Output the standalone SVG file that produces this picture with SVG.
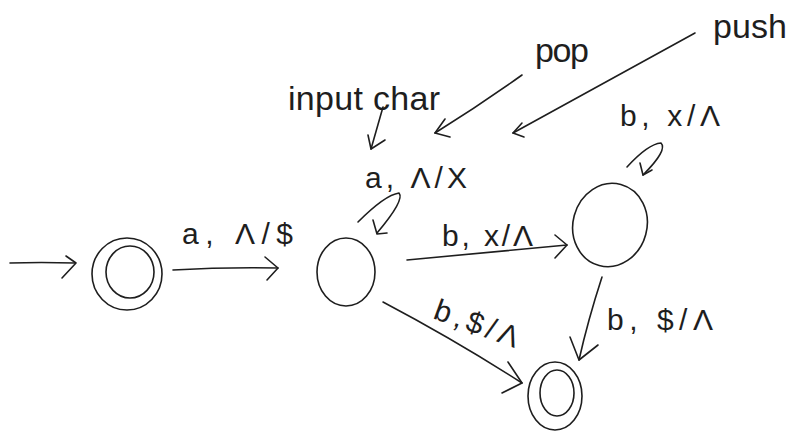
<svg xmlns="http://www.w3.org/2000/svg" width="788" height="432" viewBox="0 0 788 432">
  <style>
    .ink { fill: none; stroke: #1e1e1e; stroke-width: 1.6; stroke-linecap: round; stroke-linejoin: round; }
    .lbl { font-family: "Liberation Sans", "DejaVu Sans", sans-serif; font-size: 30px; fill: #1e1e1e; }
    .note { font-family: "Liberation Sans", "DejaVu Sans", sans-serif; font-size: 34px; fill: #1e1e1e; }
  </style>
  <rect width="788" height="432" fill="#ffffff"/>

  <!-- states -->
  <g id="q0">
    <ellipse class="ink" cx="127" cy="274" rx="35" ry="36"/>
    <ellipse class="ink" cx="130" cy="272" rx="24" ry="26"/>
  </g>
  <g id="q1">
    <ellipse class="ink" cx="346" cy="272" rx="29" ry="34"/>
  </g>
  <g id="q2">
    <ellipse class="ink" cx="610" cy="225" rx="37" ry="42" transform="rotate(15 610 225)"/>
  </g>
  <g id="q3">
    <ellipse class="ink" cx="555" cy="396" rx="27" ry="34"/>
    <ellipse class="ink" cx="557" cy="393" rx="17" ry="23"/>
  </g>

  <!-- transitions and annotation arrows -->
  <g id="connectors">
    <!-- start -->
    <path class="ink" d="M10 263 Q40 262 75 263"/>
    <path class="ink" d="M66 256 L76 263 L62 278"/>
    <!-- q0 -> q1 -->
    <path class="ink" d="M173 270 Q225 267 278 268"/>
    <path class="ink" d="M265 257 L278 268 L267 280"/>
    <!-- q1 loop -->
    <path class="ink" d="M358 222 Q385 195 399 193 Q405 200 377 233"/>
    <path class="ink" d="M373 220 L377 234 L387 233"/>
    <!-- q1 -> q2 -->
    <path class="ink" d="M407 260 Q490 252 567 245"/>
    <path class="ink" d="M555 235 L567 245 L555 258"/>
    <!-- q1 -> q3 -->
    <path class="ink" d="M383 302 Q455 340 522 383"/>
    <path class="ink" d="M508 362 L522 383 L502 393"/>
    <!-- q2 loop -->
    <path class="ink" d="M627 167 Q648 144 661 143 Q668 150 643 175"/>
    <path class="ink" d="M640 163 L643 175 L652 170"/>
    <!-- q2 -> q3 -->
    <path class="ink" d="M602 277 Q588 320 579 360"/>
    <path class="ink" d="M570 337 L579 360 L598 345"/>
    <!-- input char pointer -->
    <path class="ink" d="M383 107 L371 149"/>
    <path class="ink" d="M368 135 L371 149 L385 140"/>
    <!-- pop pointer -->
    <path class="ink" d="M522 75 Q480 105 435 133"/>
    <path class="ink" d="M445 119 L435 133 L450 137"/>
    <!-- push pointer -->
    <path class="ink" d="M695 33 Q600 85 513 133"/>
    <path class="ink" d="M522 123 L513 133 L524 137"/>
  </g>

  <!-- labels -->
  <g id="labels">
    <text class="lbl" x="182" y="244" textLength="111" lengthAdjust="spacing">a, Λ/$</text>
    <text class="lbl" x="365" y="188" textLength="102" lengthAdjust="spacing">a, Λ/X</text>
    <text class="lbl" x="442" y="246" textLength="91" lengthAdjust="spacing">b, x/Λ</text>
    <text class="lbl" x="620" y="126" textLength="100" lengthAdjust="spacing">b, x/Λ</text>
    <text class="lbl" x="432" y="318" textLength="88" lengthAdjust="spacing" transform="rotate(20 432 318)">b,$/Λ</text>
    <text class="lbl" x="607" y="330" textLength="106" lengthAdjust="spacing">b, $/Λ</text>
    <text class="note" x="288" y="110" textLength="152" lengthAdjust="spacing">input char</text>
    <text class="note" x="535" y="62" textLength="54" lengthAdjust="spacing">pop</text>
    <text class="note" x="713" y="38" textLength="74" lengthAdjust="spacing">push</text>
  </g>
</svg>
